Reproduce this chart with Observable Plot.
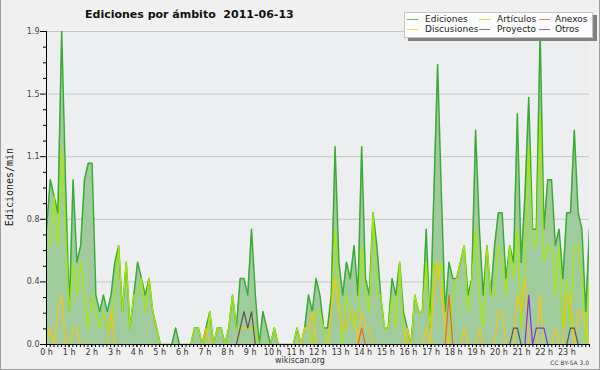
<!DOCTYPE html>
<html><head><meta charset="utf-8">
<script src="https://cdn.jsdelivr.net/npm/d3@7"></script>
<script src="https://cdn.jsdelivr.net/npm/@observablehq/plot@0.6"></script>
<style>
html,body{margin:0;padding:0;background:#f0f0f0;}
#wrap{position:relative;width:600px;height:370px;background:#f0f0f0;overflow:hidden;font-family:"DejaVu Sans",sans-serif;
  box-shadow: inset 1px 0 0 #a0a0a0, inset -1px 0 0 #a0a0a0, inset 0 -1px 0 #a0a0a0;}
#chart{position:absolute;left:0;top:0;}
.abs{position:absolute;white-space:pre;}
#title{left:85px;top:9px;font-weight:bold;font-size:11px;line-height:11px;color:#111;}
#ylab{left:10px;top:187px;transform:translate(-50%,-50%) rotate(-90deg);font-family:"DejaVu Sans Mono",monospace;font-size:10px;line-height:10px;color:#222;}
#legbox{left:404px;top:12px;width:189px;height:26px;box-sizing:border-box;background:#fcfcfc;border:1px solid #c4c4c4;box-shadow:4px 3px 0 #808080;}
.lt{font-size:9px;line-height:9px;color:#222;}
.ll{height:1px;width:11px;opacity:0.8;}
#src{left:0;width:600px;text-align:center;top:357px;font-size:8px;line-height:8px;color:#333;}
#lic{right:11px;top:360px;font-size:6px;line-height:6px;color:#444;}
</style></head>
<body>
<div id="wrap">
  <div id="chart"></div>
  <div class="abs" id="title">Ediciones por ámbito  2011-06-13</div>
  <div class="abs" id="ylab">Ediciones/min</div>
  <div class="abs" id="legbox"></div>
  <div id="legend"></div>
  <div class="abs" id="src">wikiscan.org</div>
  <div class="abs" id="lic">CC BY-SA 3.0</div>
</div>
<script>
// 144 ten-minute buckets, 0h00 .. 23h50
const ediciones = [
0.7,1.0,0.9,0.8,1.9,1.0,0.2,1.0,0.5,0.6,
1.0,1.1,1.1,0.3,0.2,0.3,0.2,0.3,0.5,0.6,
0.2,0.5,0.1,0.3,0.5,0.4,0.3,0.4,0.2,0.1,
0,0,0,0,0.1,0,0,0,0,0.1,
0.1,0,0.1,0.2,0,0.1,0.1,0,0.1,0.3,
0.1,0.4,0.4,0.3,0.7,0.3,0,0.2,0.1,0,
0.1,0,0,0,0,0,0.1,0,0.1,0.3,
0.2,0.4,0.3,0.1,0.1,0.3,1.2,0.5,0.3,0.5,
0.4,0.6,0.3,1.2,0.4,0.3,0.8,0.6,0.3,0.1,
0.1,0.4,0.3,0.5,0.2,0.1,0,0.3,0.2,0.2,
0.7,0.1,0.9,1.7,0.9,0.2,0.5,0.4,0.4,0.5,
0.6,0.3,0.4,1.3,0.7,0.3,0.6,0.3,0.6,0.8,
0.8,0.4,0.6,0.5,1.4,0.5,0.9,1.5,0.7,0.7,
1.9,0.7,1.0,1.0,0.6,0.7,0.4,0.8,0.8,1.3,
0.8,0.7,0.2,0.7];
const articulos = [
0.6,0.6,0.9,0.6,1.2,0.7,0.2,0.5,0.3,0.5,
0.3,0.1,0.3,0.2,0.1,0.2,0.1,0.1,0.3,0.6,
0.2,0.5,0.1,0.3,0.3,0.4,0.2,0.4,0.2,0.1,
0,0,0,0,0,0,0,0,0,0.1,
0.1,0,0,0.2,0,0.1,0.1,0,0.1,0.3,
0.1,0.1,0.1,0.1,0.1,0.1,0,0,0,0,
0.1,0,0,0,0,0,0.1,0,0.1,0.1,
0,0.2,0.2,0.1,0,0.2,0.7,0.3,0,0.3,
0.2,0.1,0.2,0.6,0.3,0.2,0.8,0.3,0.3,0.1,
0.1,0.3,0.1,0.5,0.1,0,0,0.3,0.2,0.2,
0.5,0.1,0.5,0.4,0.5,0.1,0,0.3,0.4,0.5,
0.6,0.2,0.4,0.7,0.3,0.1,0.6,0.3,0.3,0.6,
0.5,0.3,0.6,0.4,0.7,0.1,0.5,1.2,0.6,0.6,
1.4,0.5,0.6,0.6,0.3,0.6,0.1,0.4,0.1,0.6,
0.6,0.4,0,0.4];
const discusiones = [
0,0.1,0,0.2,0.3,0,0,0.1,0.1,0,
0,0,0,0,0,0,0,0.2,0,0,
0,0,0,0,0,0,0,0,0,0,
0,0,0,0,0,0,0,0,0,0,
0,0,0.1,0,0,0,0,0,0,0,
0,0.1,0.1,0.1,0.2,0,0,0,0,0,
0,0,0,0,0,0,0,0,0.1,0.1,
0.2,0,0,0,0,0.2,0.4,0.2,0.1,0.1,
0.2,0.2,0,0.2,0.1,0.1,0,0,0,0,
0,0,0,0,0,0.1,0,0,0,0,
0.1,0,0.3,0.5,0.3,0.1,0,0,0,0,
0.1,0,0,0,0.1,0,0,0,0,0.2,
0.2,0,0,0,0.3,0.2,0.4,0,0,0,
0.3,0,0,0,0.1,0,0,0.3,0.3,0,
0.2,0.2,0.1,0];
const anexos = [
0,0,0,0,0,0,0,0,0,0, 0,0,0,0,0,0,0,0,0,0,
0,0,0,0,0,0,0,0,0,0, 0,0,0,0,0,0,0,0,0,0,
0,0,0,0,0,0,0,0,0,0, 0,0,0,0,0,0,0,0,0,0,
0,0,0,0,0,0,0,0,0,0, 0,0,0,0,0,0,0,0,0,0,
0,0,0,0.1,0,0,0,0,0,0, 0,0,0,0,0,0,0,0,0,0,
0,0,0,0,0,0,0.3,0,0,0, 0,0,0,0,0,0,0,0,0,0,
0,0,0,0,0,0,0,0,0,0, 0,0,0,0,0,0,0,0,0,0,
0,0,0,0];
const proyecto = [
0,0,0,0,0,0,0,0,0,0, 0,0,0,0,0,0,0,0,0,0,
0,0,0,0,0,0,0,0,0,0, 0,0,0,0,0,0,0,0,0,0,
0,0,0,0,0,0,0,0,0,0, 0,0.1,0.2,0.1,0.2,0,0,0,0,0,
0,0,0,0,0,0,0,0,0,0, 0,0,0,0,0,0,0,0,0,0,
0,0,0,0,0,0,0,0,0,0, 0,0,0,0,0,0,0,0,0,0,
0,0,0,0,0,0,0,0,0,0, 0,0,0,0,0,0,0,0,0,0,
0,0,0,0.1,0.1,0,0,0,0,0, 0,0,0,0,0,0,0,0,0.1,0.1,
0,0,0,0];
const otros = [
0,0,0,0,0,0,0,0,0,0, 0,0,0,0,0,0,0,0,0,0,
0,0,0,0,0,0,0,0,0,0, 0,0,0,0,0,0,0,0,0,0,
0,0,0,0,0,0,0,0,0,0, 0,0,0,0,0,0,0,0,0,0,
0,0,0,0,0,0,0,0,0,0, 0,0,0,0,0,0,0,0,0,0,
0,0,0,0,0,0,0,0,0,0, 0,0,0,0,0,0,0,0,0,0,
0,0,0,0,0,0,0,0,0,0, 0,0,0,0,0,0,0,0,0,0,
0,0,0,0,0,0,0,0.3,0,0.1, 0.1,0.1,0,0,0,0,0,0,0,0,
0,0,0,0];

const seriesNames = ["Ediciones","Discusiones","Artículos","Proyecto","Anexos","Otros"];
const seriesColors = ["#3aab37","#f8c414","#a8e800","#555555","#f0641e","#8232e6"];
const yTicks = [0, 0.38, 0.76, 1.14, 1.52, 1.9];
const yTickLabels = ["0.0","0.4","0.8","1.1","1.5","1.9"];
const hourLabels = ["0 h","1 h","2 h","3 h","4 h","5 h","6 h","7 h","8 h","9 h","10 h","11 h",
  "12 h","13 h","14 h","15 h","16 h","17 h","18 h","19 h","20 h","21 h","22 h","23 h"];

// The source spreads its 144 buckets over the full 24 h axis width.
const nBuckets = ediciones.length;           // 144
const lastBucket = nBuckets - 1;             // 143
const buckets = d3.range(nBuckets);
const hourTicks = hourLabels.map((_, h) => h * lastBucket / 24);
const minorTicks = d3.range(nBuckets + 1).map(k => k * lastBucket / nBuckets);
const yMinor = d3.range(0, 20).filter(k => k % 4 !== 0).map(k => k * 0.095);
const color = Object.fromEntries(seriesNames.map((n, i) => [n, seriesColors[i]]));

const edRows = buckets.map(i => ({b: i, v: ediciones[i]}));
const others = [
  ["Artículos", articulos], ["Discusiones", discusiones], ["Anexos", anexos],
  ["Proyecto", proyecto], ["Otros", otros]
];

const lineMarks = others.map(([name, vals]) =>
  Plot.lineY(buckets.map(i => ({b: i, v: vals[i]})),
    {x: "b", y: "v", stroke: color[name], strokeWidth: 1.2, clip: "frame"}));

const chart = Plot.plot({
  width: 600, height: 370,
  marginLeft: 46, marginRight: 11, marginTop: 31, marginBottom: 26,
  style: {background: "transparent", fontFamily: "DejaVu Sans, sans-serif", fontSize: "8px", color: "#000"},
  x: {domain: [0, lastBucket], axis: null},
  y: {domain: [0, 1.9], axis: null},
  marks: [
    Plot.frame({fill: "#eceef0", stroke: "none"}),
    Plot.ruleY(yTicks.slice(1), {stroke: "#c6c6c6", strokeWidth: 1}),
    Plot.areaY(edRows, {x: "b", y: "v", fill: "#a0cc9d"}),
    Plot.lineY(edRows, {x: "b", y: "v", stroke: color["Ediciones"], strokeWidth: 1.5, clip: "frame"}),
    ...lineMarks,
    Plot.ruleY([0], {stroke: "#000", strokeWidth: 1.2}),
    Plot.ruleX([0], {stroke: "#000"}),
    Plot.axisY(yTicks, {tickSize: 6, tickPadding: 1, stroke: "#000", fill: "#444", label: null,
      tickFormat: d => yTickLabels[yTicks.indexOf(d)], fontSize: 8}),
    Plot.axisY(yMinor, {tickSize: 3, stroke: "#000", label: null, tickFormat: () => ""}),
    Plot.axisX(minorTicks, {tickSize: 3, stroke: "#000", label: null, tickFormat: () => ""}),
    Plot.axisX(hourTicks, {tickSize: 3, tickPadding: 2, stroke: "#000", fill: "#333", label: null,
      tickFormat: d => hourLabels[hourTicks.indexOf(d)], fontSize: 8})
  ]
});
document.getElementById("chart").appendChild(chart);

// legend entries: [name, lineLeft, textLeft, row]
const legendLayout = [
  ["Ediciones", 407, 425, 0], ["Artículos", 479, 497, 0], ["Anexos", 539, 555, 0],
  ["Discusiones", 407, 425, 1], ["Proyecto", 479, 497, 1], ["Otros", 539, 555, 1]
];
const wrap = document.getElementById("wrap");
for (const [name, lx, tx, row] of legendLayout) {
  const l = document.createElement("div");
  l.className = "abs ll";
  l.style.left = lx + "px"; l.style.top = (19 + row * 10) + "px";
  l.style.background = color[name];
  wrap.appendChild(l);
  const t = document.createElement("div");
  t.className = "abs lt";
  t.style.left = tx + "px"; t.style.top = (15 + row * 10) + "px";
  t.textContent = name;
  wrap.appendChild(t);
}
</script>
</body></html>
